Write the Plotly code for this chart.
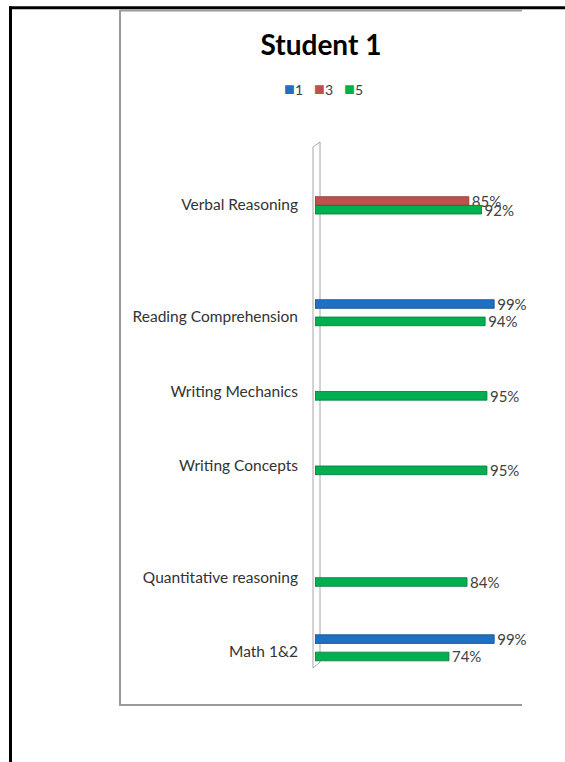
import plotly.graph_objects as go

# ---------------- data ----------------
categories = ["Verbal Reasoning", "", "", "Reading Comprehension", "", "Writing Mechanics", "",
              "Writing Concepts", "", "", "Quantitative reasoning", "", "Math 1&2"]
series_names = ["1", "3", "5"]
series_colors = ["#1F6FC2", "#C0504D", "#00AF50"]
series_edges = ["#0E4F91", "#8E3532", "#007A37"]
s1 = [None, None, None, 0.99, None, None, None, None, None, None, None, None, 0.99]
s3 = [0.85, None, None, None, None, None, None, None, None, None, None, None, None]
s5 = [0.92, None, None, 0.94, None, 0.95, None, 0.95, None, None, 0.84, None, 0.74]
series_values = [s1, s3, s5]
title_text = "Student 1"
doc_text = "reader at least 5 percentage points."

W, H = 565, 762
def px(x):
    return x / W
def py(y):
    return 1 - y / H

# unique keys for empty (spacer) rows
ykeys = [c if c else " " * (i + 1) for i, c in enumerate(categories)]
tick_keys = [k for k, c in zip(ykeys, categories) if c]

fig = go.Figure()
for name, vals, col, edge in zip(series_names, series_values, series_colors, series_edges):
    fig.add_trace(go.Bar(
        y=ykeys, x=vals, name=name, orientation="h",
        marker=dict(color=col, line=dict(color=edge, width=0.8)),
        texttemplate="%{x:.0%}", textposition="outside", constraintext="none",
        cliponaxis=False,
        textfont=dict(family="Lato", size=15, color="#404040"),
        showlegend=False,
    ))

shapes = []
# document frame (black)
shapes.append(dict(type="line", xref="paper", yref="paper", x0=px(9), x1=px(565), y0=py(7.8), y1=py(7.8),
                   line=dict(color="black", width=3)))
shapes.append(dict(type="line", xref="paper", yref="paper", x0=px(10.5), x1=px(10.5), y0=py(6.5), y1=py(762),
                   line=dict(color="black", width=3)))
# chart border (gray)
shapes.append(dict(type="line", xref="paper", yref="paper", x0=px(120), x1=px(522), y0=py(10.5), y1=py(10.5),
                   line=dict(color="#9a9a9a", width=2)))
shapes.append(dict(type="line", xref="paper", yref="paper", x0=px(120), x1=px(120), y0=py(10), y1=py(706),
                   line=dict(color="#9a9a9a", width=2)))
shapes.append(dict(type="line", xref="paper", yref="paper", x0=px(120), x1=px(522), y0=py(705), y1=py(705),
                   line=dict(color="#9a9a9a", width=2)))
# 3D wall
wall = [(313, 147), (320, 142), (320, 662), (313, 668)]
path = "M " + " L ".join(f"{px(a)},{py(b)}" for a, b in wall) + " Z"
shapes.append(dict(type="path", xref="paper", yref="paper", path=path, layer="below",
                   line=dict(color="#a6a6a6", width=1), fillcolor="white"))

annotations = []
# legend drawn as text entries
lx = 282
for name, col in zip(series_names, series_colors):
    annotations.append(dict(xref="paper", yref="paper", x=px(lx), y=py(88), xanchor="left", yanchor="middle",
                            text=f"<span style='color:{col};font-size:18px'>■</span>{name}", showarrow=False,
                            font=dict(family="Lato", size=14, color="#404040")))
    lx += 30
# partially visible document text above the chart
annotations.append(dict(xref="paper", yref="paper", x=px(433), y=py(1.5), xanchor="right", yanchor="bottom",
                        text=doc_text, showarrow=False,
                        font=dict(family="Liberation Serif", size=30, color="black")))

fig.update_layout(
    width=W, height=H, autosize=False,
    margin=dict(l=0, r=0, t=0, b=0, pad=0),
    paper_bgcolor="white", plot_bgcolor="rgba(0,0,0,0)",
    barmode="group", bargap=0.30, bargroupgap=0,
    title=dict(text=title_text, x=px(321), xanchor="center", y=py(45), yanchor="middle",
               font=dict(family="Lato", size=28, color="black", weight="bold")),
    xaxis=dict(domain=[px(315), px(532.2)], range=[0, 1.2], visible=False, fixedrange=True),
    yaxis=dict(domain=[py(666.4), py(182.4)], categoryorder="array", categoryarray=ykeys,
               autorange="reversed", tickvals=tick_keys, ticktext=[c for c in categories if c],
               showline=False, showgrid=False, zeroline=False, ticks="", ticklabelstandoff=16,
               ticklabelshift=-4,
               tickfont=dict(family="Lato", size=15.5, color="#333333")),
    shapes=shapes, annotations=annotations, showlegend=False,
)

fig.write_html("out.html", post_script="document.body.style.margin='0';",
               config={"displayModeBar": False})
